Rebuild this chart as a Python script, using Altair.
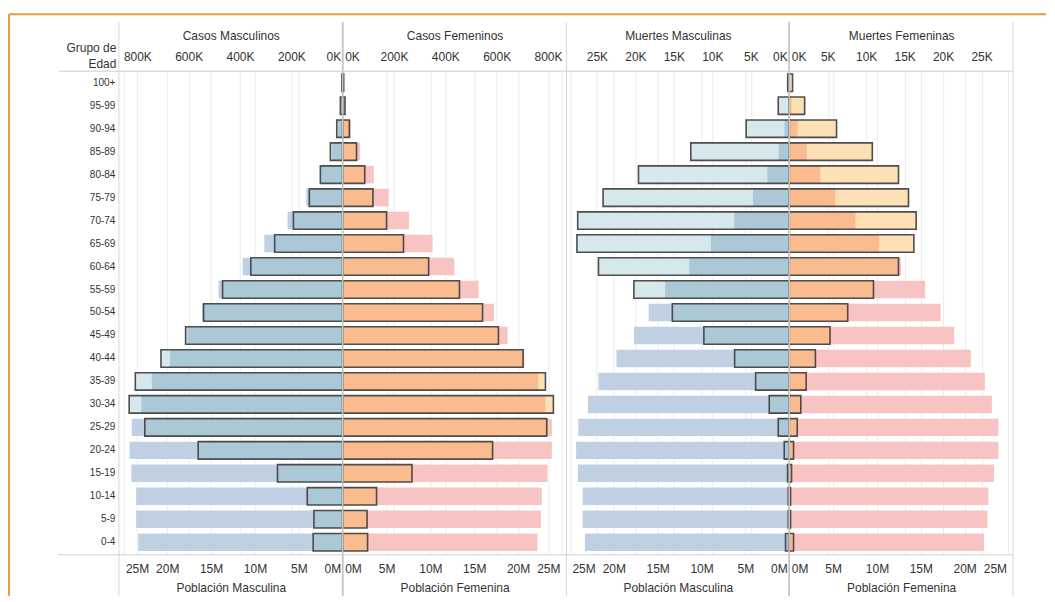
import altair as alt
import pandas as pd
import numpy as np

# ---------------- data ----------------
grupos = ["100+", "95-99", "90-94", "85-89", "80-84", "75-79", "70-74", "65-69",
          "60-64", "55-59", "50-54", "45-49", "40-44", "35-39", "30-34", "25-29",
          "20-24", "15-19", "10-14", "5-9", "0-4"]

# population, millions
pob_masc = [0.03, 0.12, 0.53, 1.2, 2.5, 4.14, 6.28, 8.93, 11.4, 14.15, 16.03, 17.7,
            19.7, 21.75, 22.95, 24.05, 24.3, 24.1, 23.55, 23.55, 23.3]
pob_fem = [0.08, 0.25, 0.95, 2.0, 3.55, 5.25, 7.55, 10.25, 12.73, 15.5, 17.25, 18.8,
           20.7, 22.3, 23.1, 23.85, 23.85, 23.35, 22.7, 22.6, 22.2]

# cases, thousands
casos_masc = [3, 9, 23, 48, 87, 130, 192, 265, 358, 468, 542, 612, 708, 808, 832, 771,
              563, 254, 138, 112, 115]
casos_fem = [4, 9, 26, 54, 86, 118, 171, 237, 335, 455, 545, 607, 703, 790, 821, 795,
             584, 270, 132, 95, 97]

# deaths, thousands
muertes_masc = [0.2, 1.43, 5.6, 12.8, 19.6, 24.2, 27.5, 27.6, 24.8, 20.2, 15.2, 11.1,
                7.1, 4.37, 2.6, 1.43, 0.65, 0.22, 0.13, 0.13, 0.48]
muertes_fem = [0.43, 2.0, 6.15, 10.8, 14.2, 15.5, 16.5, 16.2, 14.2, 10.95, 7.6, 5.3,
               3.4, 2.2, 1.5, 1.04, 0.56, 0.3, 0.17, 0.17, 0.56]

pop_ticks = [0, 5, 10, 15, 20, 25]
casos_ticks = [0, 200, 400, 600, 800]
muertes_ticks = [0, 5, 10, 15, 20, 25]

# ---------------- layout / style ----------------
W = [224, 224, 223, 224]
H = 483
PX_POP = 8.78      # px per million
PX_CASOS = 0.2569  # px per thousand cases
PX_MUERTES = 7.7   # px per thousand deaths

FONT = "Liberation Sans, Arial, sans-serif"
TXT = "#333333"
GRID = "#ececec"

M_POP, M_VAL, M_OV = "#c1cfe2", "#d6e8ec", "#abc8d6"
F_POP, F_VAL, F_OV = "#f8c4c3", "#fee0b6", "#fabb8e"
OUTLINE = "#3c3c3c"
ORANGE = "#e99a3c"

df = pd.DataFrame({
    "grupo": grupos,
    "pob_m": pob_masc, "pob_f": pob_fem,
    "casos_m": casos_masc, "casos_f": casos_fem,
    "muertes_m": muertes_masc, "muertes_f": muertes_fem,
})

one = pd.DataFrame({"k": [0]})


def panel(i, pop_col, val_col, top_title, bottom_title, male, val_px, val_ticks,
          first=False):
    w = W[i]
    pop_dom = w / PX_POP
    val_dom = w / val_px
    d = df.copy()
    d["ov"] = np.minimum(d[pop_col], d[val_col] * pop_dom / val_dom)
    cpop, cval, cov = (M_POP, M_VAL, M_OV) if male else (F_POP, F_VAL, F_OV)

    if first:
        yaxis = alt.Axis(title=["Grupo de", "Edad"], titleAngle=0, titleAlign="right",
                         titleBaseline="bottom", titleX=-3, titleY=-17,
                         titleFont=FONT, titleFontSize=12, titleFontWeight="normal",
                         titleColor=TXT, titleLineHeight=16,
                         labelFont=FONT, labelFontSize=10, labelColor=TXT,
                         labelPadding=4, ticks=False, tickSize=0, domain=False,
                         grid=False)
    else:
        yaxis = None
    y = alt.Y("grupo:N", sort=grupos, axis=yaxis,
              scale=alt.Scale(paddingInner=0.24, paddingOuter=0.12))

    pop_scale = alt.Scale(domain=[0, pop_dom], reverse=male, nice=False, zero=True)
    val_scale = alt.Scale(domain=[0, val_dom], reverse=male, nice=False, zero=True)

    common_axis = dict(labelFont=FONT, labelFontSize=12, labelColor=TXT,
                       titleFont=FONT, titleFontSize=12, titleFontWeight="normal",
                       titleColor=TXT, ticks=False, tickSize=0, domain=False,
                       grid=True, gridColor=GRID, gridWidth=1, labelFlush=10,
                       labelFlushOffset=-2, labelOverlap=False)

    base = alt.Chart(d)
    pop = base.mark_bar(color=cpop).encode(
        x=alt.X("%s:Q" % pop_col, scale=pop_scale,
                axis=alt.Axis(orient="bottom", values=pop_ticks,
                              labelExpr="datum.value + 'M'", title=bottom_title,
                              labelPadding=10, titlePadding=8, **common_axis)),
        y=y)
    val = base.mark_bar(color=cval).encode(
        x=alt.X("%s:Q" % val_col, scale=val_scale,
                axis=alt.Axis(orient="top", values=val_ticks,
                              labelExpr="datum.value + 'K'", title=top_title,
                              labelPadding=8, titlePadding=8, **common_axis)),
        y=y)
    ov = base.mark_bar(color=cov).encode(
        x=alt.X("ov:Q", scale=pop_scale, axis=None), y=y)
    outline = base.mark_bar(fillOpacity=0, stroke=OUTLINE, strokeWidth=1.6,
                            strokeOpacity=0.9).encode(
        x=alt.X("%s:Q" % val_col, scale=val_scale, axis=None), y=y)

    rules = []
    r = alt.Chart(one)
    zx = w if male else 0
    rules.append(r.mark_rule(color="#c4c4c4", strokeWidth=1.5).encode(
        x=alt.value(zx), y=alt.value(-49), y2=alt.value(H + 42)))
    if first:
        rules.append(r.mark_rule(color="#d6d6d6", strokeWidth=1).encode(
            x=alt.value(0), y=alt.value(-49), y2=alt.value(H + 42)))
    if i in (1, 3):
        rules.append(r.mark_rule(color="#d6d6d6", strokeWidth=1).encode(
            x=alt.value(w), y=alt.value(-49), y2=alt.value(H + 42)))
    x0 = -60 if first else 0
    rules.append(r.mark_rule(color="#dddddd", strokeWidth=1.5).encode(
        x=alt.value(x0), x2=alt.value(w), y=alt.value(0)))
    rules.append(r.mark_rule(color="#d0d0d0", strokeWidth=1).encode(
        x=alt.value(x0 - 1), x2=alt.value(w), y=alt.value(H + 1)))
    if first:
        rules.append(r.mark_rule(color=ORANGE, strokeWidth=2).encode(
            x=alt.value(-110), y=alt.value(-57), y2=alt.value(H + 42)))
        rules.append(r.mark_rule(color=ORANGE, strokeWidth=2).encode(
            x=alt.value(-110), x2=alt.value(928), y=alt.value(-57)))

    layer = alt.layer(pop, val, ov, outline, *rules).resolve_scale(x="independent")
    return layer.properties(width=w, height=H)


p1 = panel(0, "pob_m", "casos_m", "Casos Masculinos", "Población Masculina", True,
           PX_CASOS, casos_ticks, first=True)
p2 = panel(1, "pob_f", "casos_f", "Casos Femeninos", "Población Femenina", False,
           PX_CASOS, casos_ticks)
p3 = panel(2, "pob_m", "muertes_m", "Muertes Masculinas", "Población Masculina", True,
           PX_MUERTES, muertes_ticks)
p4 = panel(3, "pob_f", "muertes_f", "Muertes Femeninas", "Población Femenina", False,
           PX_MUERTES, muertes_ticks)

chart = alt.hconcat(p1, p2, p3, p4, spacing=0, bounds="flush").resolve_scale(
    x="independent"
).configure_view(stroke=None).properties(
    padding={"left": 0, "top": 5, "right": 0, "bottom": 0}
)

chart.save("out.html", embed_options={"renderer": "svg", "actions": False})
